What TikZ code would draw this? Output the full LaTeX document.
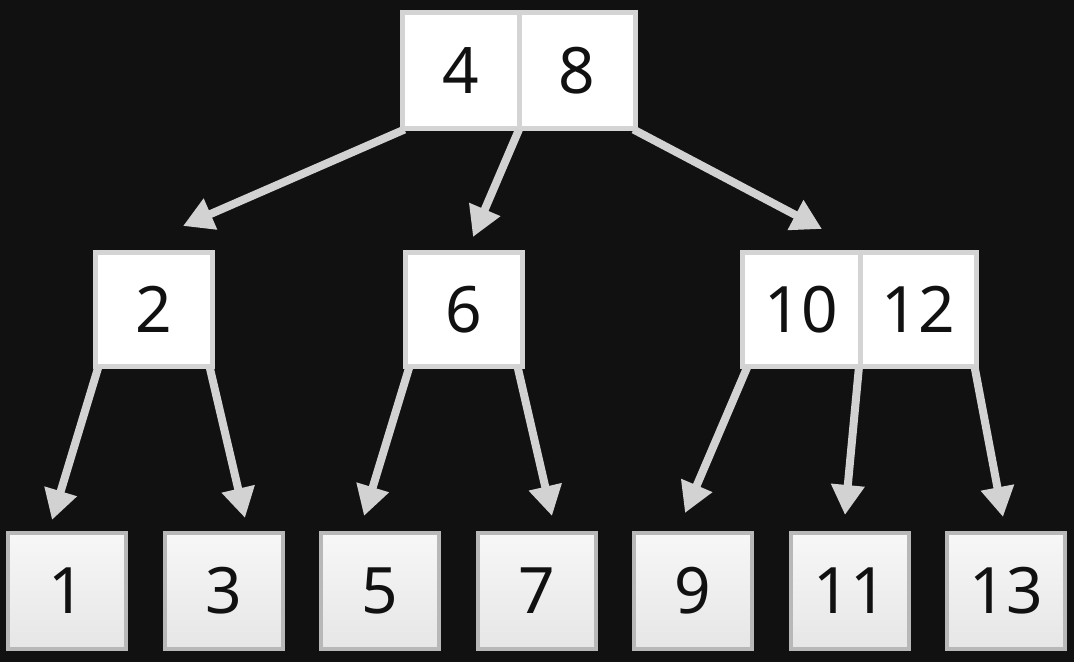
\documentclass[tikz,border=0pt]{standalone}
\usepackage{fontspec}
\setmainfont{Noto Sans}
\usetikzlibrary{arrows.meta,calc}
\definecolor{bg}{HTML}{111111}
\definecolor{edge}{HTML}{D2D2D2}
\definecolor{cellborder}{HTML}{D4D4D4}
\definecolor{leafborder}{HTML}{B8B8B8}
\definecolor{leaftop}{HTML}{F7F7F7}
\definecolor{leafbot}{HTML}{E6E6E6}
\definecolor{ink}{HTML}{111111}
\tikzset{
  cell/.style={draw=cellborder, fill=white, line width=5pt, outer sep=0pt,
    inner sep=0pt, minimum height=116pt, text=ink, font=\fontsize{64}{64}\selectfont},
  leaf/.style={draw=leafborder, top color=leaftop, bottom color=leafbot,
    line width=4pt, outer sep=0pt, inner sep=0pt, minimum width=118pt,
    minimum height=116pt, text=ink, font=\fontsize{64}{64}\selectfont},
  link/.style={draw=edge, line width=8pt, -{Triangle[length=30pt,width=32pt]}}
}
\begin{document}
\begin{tikzpicture}[x=1pt,y=-1pt]
\fill[bg] (0,0) rectangle (1074,662);
\useasboundingbox (0,0) rectangle (1074,662);
% root
\node[cell, minimum width=116.5pt] (r4) at (460.75,70.5) {4};
\node[cell, minimum width=116.5pt] (r8) at (577.25,70.5) {8};
% level 2
\node[cell, minimum width=117pt, minimum height=114pt] (n2) at (154,309.5) {2};
\node[cell, minimum width=117pt, minimum height=114pt] (n6) at (464,309.5) {6};
\node[cell, minimum width=117.5pt, minimum height=114pt] (n10) at (801.25,309.5) {10};
\node[cell, minimum width=116.5pt, minimum height=114pt] (n12) at (918.25,309.5) {12};
% leaves
\node[leaf] (l1) at (67,591) {1};
\node[leaf] (l3) at (224,591) {3};
\node[leaf] (l5) at (380,591) {5};
\node[leaf] (l7) at (537,591) {7};
\node[leaf] (l9) at (693,591) {9};
\node[leaf] (l11) at (850,591) {11};
\node[leaf] (l13) at (1006,591) {13};
% arrow tips
\coordinate (t2) at (183,226);
\coordinate (t6) at (473,237);
\coordinate (t10) at (822,229);
\coordinate (t1) at (52,520);
\coordinate (t3) at (245,518);
\coordinate (t5) at (364,516);
\coordinate (t7) at (552,516);
\coordinate (t9) at (685,513);
\coordinate (t11) at (845,515);
\coordinate (t13) at (1003,517);
% connectors
\draw[link] ([xshift=2pt,yshift=-1pt]r4.south west) -- (t2);
\draw[link] ([yshift=-1pt]r4.south east) -- (t6);
\draw[link] ([xshift=-2pt,yshift=-1pt]r8.south east) -- (t10);
\draw[link] ([xshift=3pt]n2.south west) -- (t1);
\draw[link] ([xshift=-3pt]n2.south east) -- (t3);
\draw[link] ([xshift=4pt]n6.south west) -- (t5);
\draw[link] ([xshift=-5pt]n6.south east) -- (t7);
\draw[link] ([xshift=5pt]n10.south west) -- (t9);
\draw[link] ([xshift=-1pt]n10.south east) -- (t11);
\draw[link] ([xshift=-2pt]n12.south east) -- (t13);
\end{tikzpicture}
\end{document}
